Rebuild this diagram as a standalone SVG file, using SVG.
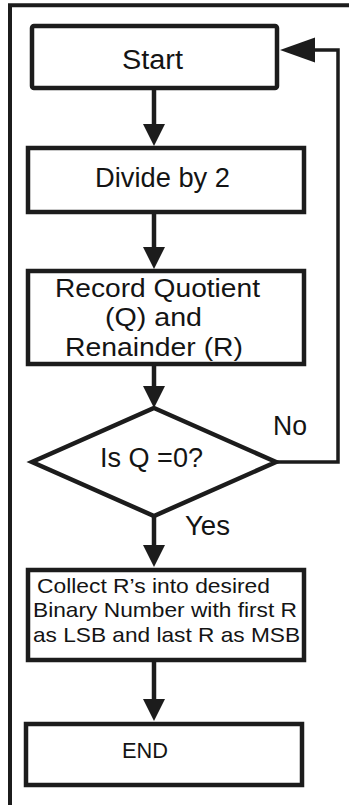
<svg xmlns="http://www.w3.org/2000/svg" width="349" height="805" viewBox="0 0 349 805">
  <style>
    .box { fill: #ffffff; stroke: #1c1c1c; stroke-width: 4.5; stroke-linejoin: miter; }
    .label { font-family: "Liberation Sans", Arial, Helvetica, sans-serif; fill: #141414; }
    .big { font-size: 27px; }
    .mid { font-size: 25px; }
    .small { font-size: 21px; }
    .end { font-size: 22px; }
    .flow { fill: none; stroke: #1c1c1c; stroke-width: 4.5; }
    .loop { fill: none; stroke: #1c1c1c; stroke-width: 3.5; stroke-linejoin: miter; }
  </style>
  <defs>
    <marker id="headDown" markerUnits="userSpaceOnUse" viewBox="0 -11 22 22" refX="0" refY="0" markerWidth="22" markerHeight="22" orient="auto">
      <path d="M0,-11 L22,0 L0,11 z" fill="#1c1c1c"/>
    </marker>
    <marker id="headBack" markerUnits="userSpaceOnUse" viewBox="0 -13 35 26" refX="0" refY="0" markerWidth="35" markerHeight="26" orient="auto">
      <path d="M0,-12.5 L35,0 L0,12.5 z" fill="#1c1c1c"/>
    </marker>
  </defs>

  <rect width="349" height="805" fill="#ffffff"/>

  <!-- page frame -->
  <path d="M10,805 V5.3 H349" fill="none" stroke="#1c1c1c" stroke-width="4"/>

  <!-- connectors -->
  <g id="connectors">
    <path class="flow" d="M154,88 V124" marker-end="url(#headDown)"/>
    <path class="flow" d="M154,212 V247" marker-end="url(#headDown)"/>
    <path class="flow" d="M154,364 V386" marker-end="url(#headDown)"/>
    <path class="flow" d="M154,516 V545" marker-end="url(#headDown)"/>
    <path class="flow" d="M154,660 V699" marker-end="url(#headDown)"/>
    <path class="loop" d="M276,462 H338 V50 H315" marker-end="url(#headBack)"/>
    <text class="label big" x="273" y="435" textLength="34" lengthAdjust="spacingAndGlyphs">No</text>
    <text class="label big" x="185" y="535" textLength="45" lengthAdjust="spacingAndGlyphs">Yes</text>
  </g>

  <g id="start">
    <rect class="box" x="32" y="26" width="245" height="62" rx="2"/>
    <text class="label big" x="122" y="69" textLength="61" lengthAdjust="spacingAndGlyphs">Start</text>
  </g>

  <g id="divide">
    <rect class="box" x="28" y="148" width="276" height="64"/>
    <text class="label big" x="95" y="187" textLength="135" lengthAdjust="spacingAndGlyphs">Divide by 2</text>
  </g>

  <g id="record">
    <rect class="box" x="28" y="271" width="276" height="93"/>
    <text class="label mid" x="55" y="297" textLength="205" lengthAdjust="spacingAndGlyphs">Record Quotient</text>
    <text class="label mid" x="105" y="326" textLength="97" lengthAdjust="spacingAndGlyphs">(Q) and</text>
    <text class="label mid" x="65" y="356" textLength="178" lengthAdjust="spacingAndGlyphs">Renainder (R)</text>
  </g>

  <g id="decision">
    <polygon class="box" points="154,408 276,462 154,516 32,462"/>
    <text class="label big" x="100" y="467" textLength="103" lengthAdjust="spacingAndGlyphs">Is Q =0?</text>
  </g>

  <g id="collect">
    <rect class="box" x="28" y="570" width="276" height="90"/>
    <text class="label small" x="37" y="593" textLength="233" lengthAdjust="spacingAndGlyphs">Collect R’s into desired</text>
    <text class="label small" x="33" y="617" textLength="264" lengthAdjust="spacingAndGlyphs">Binary Number with first R</text>
    <text class="label small" x="33" y="642" textLength="267" lengthAdjust="spacingAndGlyphs">as LSB and last R as MSB</text>
  </g>

  <g id="end">
    <rect class="box" x="26" y="724" width="276" height="61"/>
    <text class="label end" x="122" y="758" textLength="46" lengthAdjust="spacingAndGlyphs">END</text>
  </g>
</svg>
